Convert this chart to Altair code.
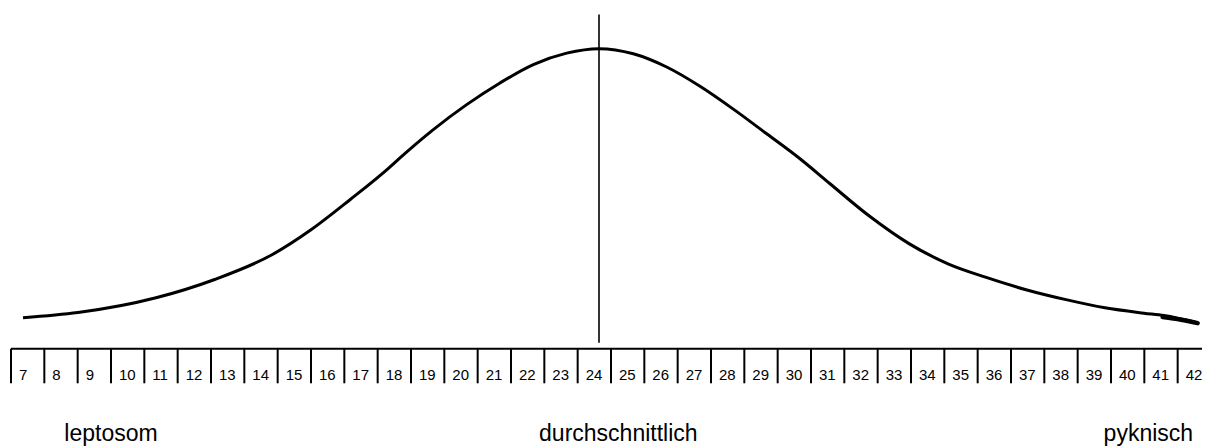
import altair as alt
import pandas as pd

# Körperbauindex (x) und relative Häufigkeit in % des Gipfels (y)
curve_x = [6.86, 8.51, 10.85, 12.59, 14.33, 15.50, 16.67, 17.84, 18.17, 19.17,
           20.17, 21.17, 22.17, 23.17, 24.14, 25.17, 26.17, 27.17, 28.17, 29.17,
           30.17, 31.07, 32.27, 33.44, 34.61, 35.78, 36.95, 38.15, 39.32, 40.49,
           41.09, 42.08]
curve_y = [10.3, 12.0, 16.9, 22.9, 31.2, 39.5, 49.5, 60.1, 63.4, 72.8,
           81.1, 88.3, 94.4, 98.2, 99.7, 98.0, 93.6, 87.2, 79.6, 71.4,
           63.1, 54.8, 43.9, 34.9, 28.2, 23.6, 19.6, 16.3, 13.6, 11.8,
           11.0, 8.6]

# kleiner verdickter Auslauf am rechten Ende der Kurve
tail_x = [41.05, 41.6, 42.10]
tail_y = [10.5, 9.6, 8.5]

mean_value = 24.14          # senkrechte Linie (Durchschnitt)
boxes = list(range(7, 43))  # Skala 7 ... 42

type_labels = ["leptosom", "durchschnittlich", "pyknisch"]
type_anchor = [9.5, 24.72, 40.62]

FONT = "Liberation Sans"
BOX_PX = 33.333
PLOT_W = 1191
xs = alt.Scale(domain=[6.5, 6.5 + PLOT_W / BOX_PX], nice=False, zero=False)
ys = alt.Scale(domain=[-33, 113.2], nice=False, zero=False)

curve_df = pd.DataFrame({"x": curve_x, "y": curve_y})
tail_df = pd.DataFrame({"x": tail_x, "y": tail_y})
box_df = pd.DataFrame({"n": boxes})
box_df["left"] = box_df["n"] - 0.5
lab_df = pd.DataFrame({"t": type_labels, "x": type_anchor})

curve = alt.Chart(curve_df).mark_line(
    color="black", strokeWidth=3, interpolate="monotone"
).encode(
    x=alt.X("x:Q", scale=xs, axis=None),
    y=alt.Y("y:Q", scale=ys, axis=None),
)

tail = alt.Chart(tail_df).mark_line(
    color="black", strokeWidth=4.5, interpolate="monotone", strokeCap="round"
).encode(
    x=alt.X("x:Q", scale=xs, axis=None),
    y=alt.Y("y:Q", scale=ys, axis=None),
)

mean_rule = alt.Chart(pd.DataFrame({"m": [mean_value]})).mark_rule(
    color="black", strokeWidth=1.6
).encode(
    x=alt.X("m:Q", scale=xs, axis=None),
    y=alt.datum(2, scale=ys),
    y2=alt.datum(111),
)

baseline = alt.Chart(pd.DataFrame({"a": [boxes[0] - 0.5], "b": [boxes[-1] + 0.5]})).mark_rule(
    color="black", strokeWidth=2
).encode(
    x=alt.X("a:Q", scale=xs, axis=None),
    x2="b:Q",
    y=alt.datum(0, scale=ys),
)

separators = alt.Chart(box_df).mark_rule(color="black", strokeWidth=2).encode(
    x=alt.X("left:Q", scale=xs, axis=None),
    y=alt.datum(0, scale=ys),
    y2=alt.datum(-11.5),
)

numbers = alt.Chart(box_df).mark_text(
    align="left", baseline="alphabetic", dx=8, fontSize=15, font=FONT, color="black"
).encode(
    x=alt.X("left:Q", scale=xs, axis=None),
    y=alt.datum(-10.3, scale=ys),
    text="n:N",
)

labels = alt.Chart(lab_df).mark_text(
    align="center", baseline="alphabetic", fontSize=23, font=FONT, color="black"
).encode(
    x=alt.X("x:Q", scale=xs, axis=None),
    y=alt.datum(-30.6, scale=ys),
    text="t:N",
)

chart = alt.layer(
    curve, tail, mean_rule, baseline, separators, numbers, labels
).properties(
    width=PLOT_W,
    height=440,
    padding={"left": 3, "top": 0, "right": 0, "bottom": 0},
    autosize=alt.AutoSizeParams(type="none"),
    background="white",
).configure_view(stroke=None)

chart.save("out.html", embed_options={"renderer": "svg", "actions": False})
